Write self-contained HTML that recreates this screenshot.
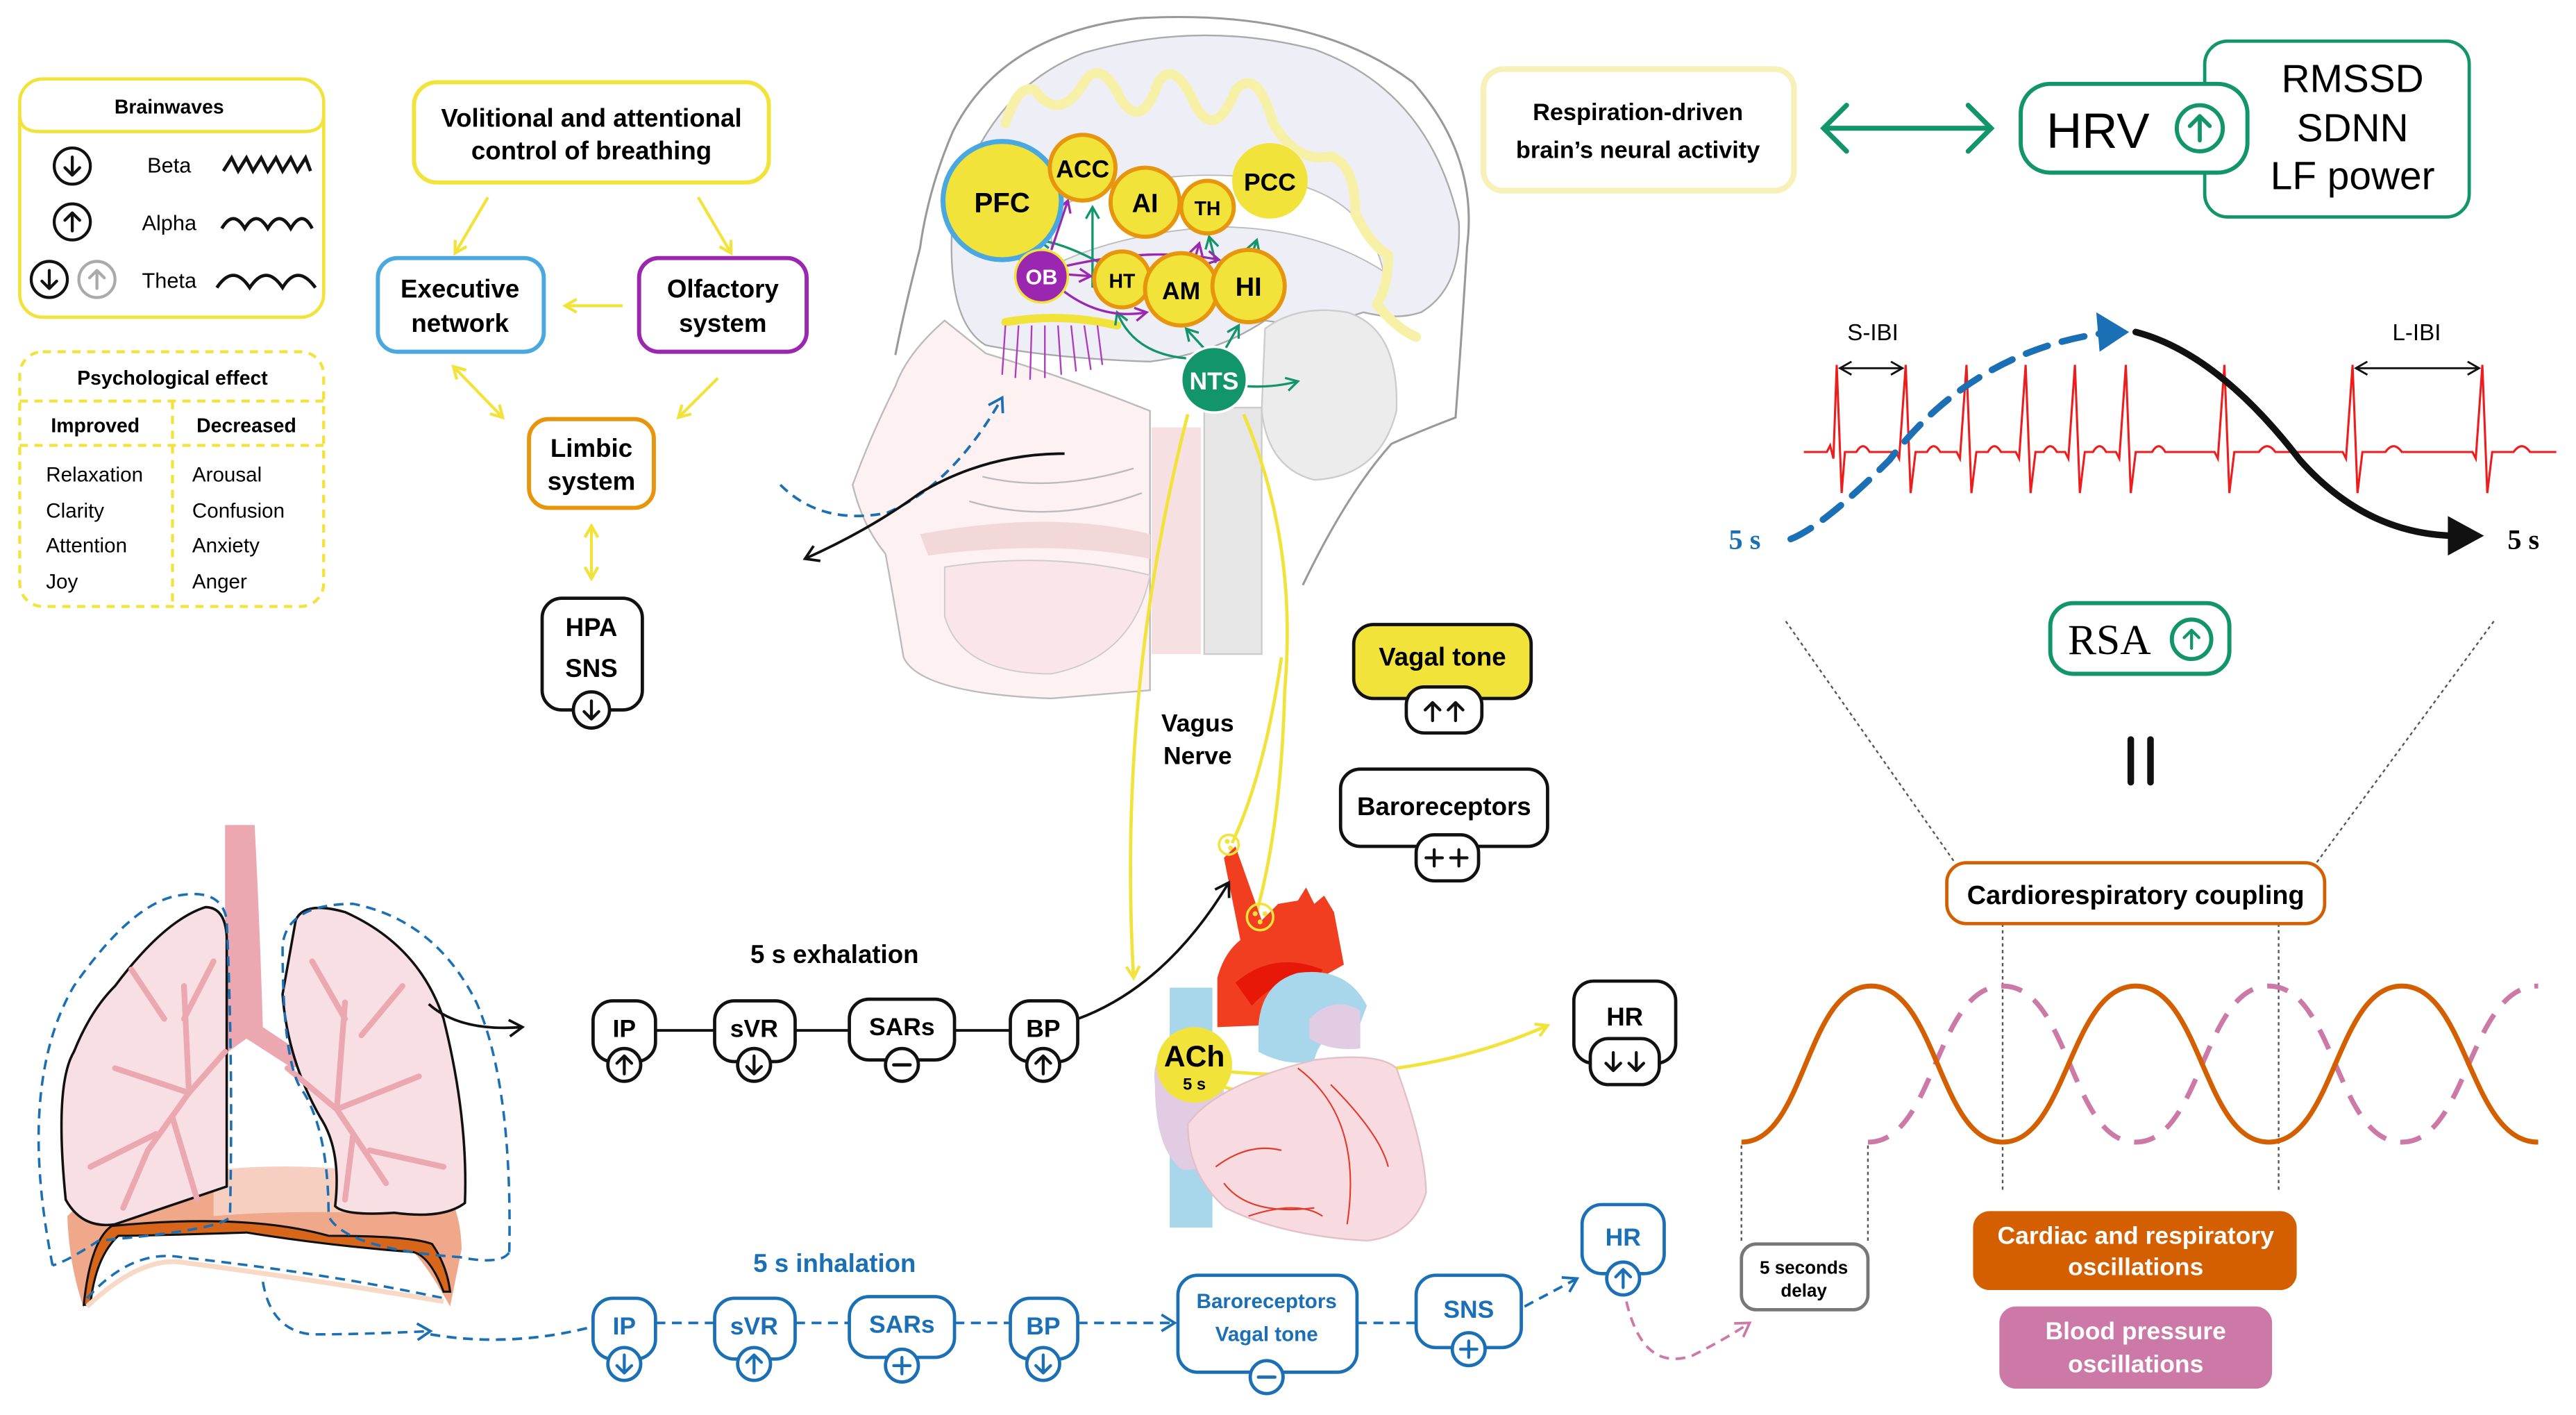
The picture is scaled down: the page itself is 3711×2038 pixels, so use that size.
<!DOCTYPE html>
<html><head><meta charset="utf-8"><style>
html,body{margin:0;padding:0;background:#fff;}
svg{display:block;}
text{font-family:"Liberation Sans","DejaVu Sans",sans-serif;}
.b{font-weight:bold;}
</style></head><body>
<svg width="3711" height="2038" viewBox="0 0 1568 861" xmlns="http://www.w3.org/2000/svg">
<defs>
<g id="up" fill="none" stroke-width="1.8" stroke-linecap="round" stroke-linejoin="round"><path d="M0 5.5 V-5.5 M-4.5 -1 L0 -5.5 L4.5 -1"/></g>
<g id="dn" fill="none" stroke-width="1.8" stroke-linecap="round" stroke-linejoin="round"><path d="M0 -5.5 V5.5 M-4.5 1 L0 5.5 L4.5 1"/></g>
<g id="pl" fill="none" stroke-width="1.8" stroke-linecap="round"><path d="M0 -5 V5 M-5 0 H5"/></g>
<g id="mi" fill="none" stroke-width="2" stroke-linecap="round"><path d="M-5 0 H5"/></g>
<marker id="ay" markerWidth="10" markerHeight="10" refX="8" refY="5" orient="auto" markerUnits="userSpaceOnUse"><path d="M1 1 L8 5 L1 9" fill="none" stroke="#f2e33a" stroke-width="1.8"/></marker>
<marker id="ays" markerWidth="10" markerHeight="10" refX="2" refY="5" orient="auto" markerUnits="userSpaceOnUse"><path d="M9 1 L2 5 L9 9" fill="none" stroke="#f2e33a" stroke-width="1.8"/></marker>
<marker id="ak" markerWidth="12" markerHeight="12" refX="9" refY="6" orient="auto" markerUnits="userSpaceOnUse"><path d="M1 1 L9 6 L1 11" fill="none" stroke="#111" stroke-width="1.6"/></marker>
<marker id="abl" markerWidth="12" markerHeight="12" refX="9" refY="6" orient="auto" markerUnits="userSpaceOnUse"><path d="M1 1 L9 6 L1 11" fill="none" stroke="#1a6fb5" stroke-width="1.6"/></marker>
<marker id="ag" markerWidth="10" markerHeight="10" refX="8" refY="5" orient="auto" markerUnits="userSpaceOnUse"><path d="M1 1 L8 5 L1 9" fill="none" stroke="#13956b" stroke-width="1.4"/></marker>
<marker id="ap" markerWidth="10" markerHeight="10" refX="8" refY="5" orient="auto" markerUnits="userSpaceOnUse"><path d="M1 1 L8 5 L1 9" fill="none" stroke="#9b27b0" stroke-width="1.4"/></marker>
<marker id="apk" markerWidth="12" markerHeight="12" refX="9" refY="6" orient="auto" markerUnits="userSpaceOnUse"><path d="M1 1 L9 6 L1 11" fill="none" stroke="#cc79a7" stroke-width="1.6"/></marker>
<marker id="aecg" markerWidth="10" markerHeight="10" refX="8" refY="5" orient="auto" markerUnits="userSpaceOnUse"><path d="M1 1 L8 5 L1 9" fill="none" stroke="#111" stroke-width="1.2"/></marker>
<marker id="aecgs" markerWidth="10" markerHeight="10" refX="2" refY="5" orient="auto" markerUnits="userSpaceOnUse"><path d="M9 1 L2 5 L9 9" fill="none" stroke="#111" stroke-width="1.2"/></marker>
</defs>

<!-- Brainwaves -->
<rect x="12" y="48" width="185" height="145" rx="14" fill="#fff" stroke="#f2e33a" stroke-width="2"/>
<path d="M12 70 Q12 80 24 80 L185 80 Q197 80 197 70" fill="none" stroke="#f2e33a" stroke-width="2"/>
<text x="103" y="69" font-size="12" class="b" text-anchor="middle">Brainwaves</text>
<g fill="none" stroke="#111" stroke-width="1.8">
<circle cx="44" cy="101" r="11"/><circle cx="44" cy="135" r="11"/><circle cx="30" cy="170" r="11"/>
</g>
<circle cx="59" cy="170" r="11" fill="none" stroke="#aaa" stroke-width="1.8"/>
<use href="#dn" x="44" y="101" stroke="#111"/>
<use href="#up" x="44" y="135" stroke="#111"/>
<use href="#dn" x="30" y="170" stroke="#111"/>
<use href="#up" x="59" y="170" stroke="#aaa"/>
<text x="103" y="105" font-size="13" text-anchor="middle">Beta</text>
<text x="103" y="140" font-size="13" text-anchor="middle">Alpha</text>
<text x="103" y="175" font-size="13" text-anchor="middle">Theta</text>
<path d="M136 104 L141 96 L145 104 L150 96 L154 104 L159 96 L163 104 L168 96 L172 104 L177 96 L181 104 L186 96 L189 104" fill="none" stroke="#111" stroke-width="2"/>
<path d="M135 139 Q142 127 149 139 Q156 127 163 139 Q170 127 177 139 Q184 127 190 139" fill="none" stroke="#111" stroke-width="2"/>
<path d="M132 175 Q142 160 152 175 Q162 160 172 175 Q181 160 192 175" fill="none" stroke="#111" stroke-width="2"/>

<!-- Psychological -->
<rect x="12" y="214" width="185" height="155" rx="14" fill="#fff" stroke="#f2e33a" stroke-width="1.8" stroke-dasharray="5 4"/>
<g stroke="#f2e33a" stroke-width="1.8" stroke-dasharray="5 4"><line x1="12" y1="244" x2="197" y2="244"/><line x1="12" y1="271" x2="197" y2="271"/><line x1="105" y1="244" x2="105" y2="369"/></g>
<text x="105" y="234" font-size="12" class="b" text-anchor="middle">Psychological effect</text>
<text x="58" y="263" font-size="12" class="b" text-anchor="middle">Improved</text>
<text x="150" y="263" font-size="12" class="b" text-anchor="middle">Decreased</text>
<g font-size="12.5"><text x="28" y="293">Relaxation</text><text x="28" y="315">Clarity</text><text x="28" y="336">Attention</text><text x="28" y="358">Joy</text>
<text x="117" y="293">Arousal</text><text x="117" y="315">Confusion</text><text x="117" y="336">Anxiety</text><text x="117" y="358">Anger</text></g>

<!-- Control flow -->
<rect x="252" y="50" width="216" height="61" rx="14" fill="#fff" stroke="#f2e33a" stroke-width="2.5"/>
<text x="360" y="77" font-size="15.5" class="b" text-anchor="middle">Volitional and attentional</text>
<text x="360" y="97" font-size="15.5" class="b" text-anchor="middle">control of breathing</text>
<rect x="230" y="157" width="101" height="57" rx="12" fill="#fff" stroke="#4aa8e0" stroke-width="2.5"/>
<text x="280" y="181" font-size="15.5" class="b" text-anchor="middle">Executive</text>
<text x="280" y="202" font-size="15.5" class="b" text-anchor="middle">network</text>
<rect x="389" y="157" width="102" height="57" rx="12" fill="#fff" stroke="#9b27b0" stroke-width="2.5"/>
<text x="440" y="181" font-size="15.5" class="b" text-anchor="middle">Olfactory</text>
<text x="440" y="202" font-size="15.5" class="b" text-anchor="middle">system</text>
<rect x="322" y="255" width="76" height="54" rx="12" fill="#fff" stroke="#e8950e" stroke-width="2.5"/>
<text x="360" y="278" font-size="15.5" class="b" text-anchor="middle">Limbic</text>
<text x="360" y="298" font-size="15.5" class="b" text-anchor="middle">system</text>
<g stroke="#f2e33a" stroke-width="1.8" fill="none">
<line x1="297" y1="120" x2="277" y2="154" marker-end="url(#ay)"/>
<line x1="425" y1="120" x2="445" y2="154" marker-end="url(#ay)"/>
<line x1="379" y1="186" x2="344" y2="186" marker-end="url(#ay)"/>
<line x1="276" y1="223" x2="306" y2="254" marker-start="url(#ays)" marker-end="url(#ay)"/>
<line x1="437" y1="230" x2="413" y2="254" marker-end="url(#ay)"/>
<line x1="360" y1="320" x2="360" y2="352" marker-start="url(#ays)" marker-end="url(#ay)"/>
</g>
<rect x="330" y="364" width="61" height="68" rx="12" fill="#fff" stroke="#111" stroke-width="2"/>
<text x="360" y="387" font-size="15.5" class="b" text-anchor="middle">HPA</text>
<text x="360" y="412" font-size="15.5" class="b" text-anchor="middle">SNS</text>
<circle cx="360" cy="432" r="11" fill="#fff" stroke="#111" stroke-width="2"/>
<use href="#dn" x="360" y="432" stroke="#111"/>

<!-- Head / brain -->
<path d="M701 260 L731 260 L731 398 L701 398 Z" fill="#f6e0e2"/>
<path d="M575 195 Q552 215 545 235 Q530 265 519 295 Q525 320 539 337 Q545 370 550 400 Q560 422 640 425 L700 420 L700 250 Q650 230 600 215 Z" fill="#fdf1f1" stroke="#bbb" stroke-width="1"/>
<path d="M560 325 Q640 310 700 325 L700 340 Q640 328 565 338 Z" fill="#f3d8da"/>
<path d="M575 345 Q640 335 700 350 Q690 400 640 410 Q585 410 575 375 Z" fill="#fae6e8" stroke="#ccc" stroke-width="0.8"/>
<path d="M598 290 Q640 300 690 285 M590 305 Q640 320 695 300" fill="none" stroke="#bbb" stroke-width="1"/>
<path d="M580 130 Q600 55 660 32 Q730 12 800 30 Q870 55 888 135 Q890 175 865 190 Q850 195 830 190 Q800 200 770 195 Q740 215 700 220 Q640 218 600 210 Q575 195 580 130 Z" fill="#eeeef6" stroke="#aaa" stroke-width="1"/>
<path d="M640 128 Q700 98 780 110 Q832 120 842 165 Q800 138 740 138 Q680 142 640 162 Z" fill="#fff" stroke="#bbb" stroke-width="0.8"/>
<path d="M612 75 Q620 50 630 55 Q645 75 660 50 Q670 35 682 60 Q695 80 705 50 Q715 35 728 65 Q740 85 752 55 Q765 40 775 75 Q790 100 810 95 Q825 100 825 130 Q835 150 845 155 Q845 175 838 185 Q850 200 862 205" fill="none" stroke="#f7f1a8" stroke-width="6" stroke-linejoin="round" stroke-linecap="round"/>
<path d="M770 200 Q790 185 820 190 Q852 200 850 250 Q840 290 800 292 Q772 285 768 250 Z" fill="#ececec" stroke="#ccc"/>
<path d="M733 248 L768 248 L768 398 L733 398 Z" fill="#e6e6e6" stroke="#ccc"/>
<path d="M693 11 Q800 5 860 50 Q900 95 893 150 Q890 200 886 254 Q865 262 847 270 Q820 300 793 356" fill="none" stroke="#999" stroke-width="1.3"/>
<path d="M693 11 Q610 20 580 80 Q565 115 560 151 Q550 190 545 216" fill="none" stroke="#999" stroke-width="1.3"/>
<path d="M612 196 Q645 190 680 198" stroke="#f2e33a" stroke-width="5" fill="none" stroke-linecap="round"/>
<g stroke="#b03cc0" stroke-width="1"><line x1="612" y1="198" x2="610" y2="228"/><line x1="620" y1="198" x2="618" y2="230"/><line x1="628" y1="198" x2="627" y2="231"/><line x1="636" y1="198" x2="636" y2="230"/><line x1="644" y1="198" x2="646" y2="228"/><line x1="652" y1="198" x2="655" y2="226"/><line x1="660" y1="198" x2="664" y2="225"/><line x1="668" y1="198" x2="671" y2="222"/></g>
<!-- brain arrows -->
<g stroke="#13956b" stroke-width="1.4" fill="none">
<path d="M722 218 Q690 215 680 190" marker-end="url(#ag)"/>
<line x1="733" y1="212" x2="722" y2="200" marker-end="url(#ag)"/>
<line x1="746" y1="212" x2="754" y2="198" marker-end="url(#ag)"/>
<path d="M759 235 Q775 236 790 232" marker-end="url(#ag)"/>
<path d="M700 180 Q660 150 632 146" marker-end="url(#ag)"/>
<line x1="665" y1="175" x2="665" y2="126" marker-end="url(#ag)"/>
<line x1="740" y1="160" x2="736" y2="144" marker-end="url(#ag)"/>
<line x1="762" y1="155" x2="765" y2="146" marker-end="url(#ag)"/>
</g>
<g stroke="#9b27b0" stroke-width="1.4" fill="none">
<line x1="624" y1="160" x2="606" y2="148" marker-end="url(#ap)"/>
<line x1="640" y1="152" x2="650" y2="122" marker-end="url(#ap)"/>
<line x1="650" y1="167" x2="664" y2="168" marker-end="url(#ap)"/>
<path d="M648 162 Q700 150 742 158" marker-end="url(#ap)"/>
<path d="M646 176 Q670 195 698 190" marker-end="url(#ap)"/>
<line x1="728" y1="155" x2="730" y2="148" marker-end="url(#ap)"/>
</g>
<circle cx="610" cy="122" r="36" fill="#f2e33a" stroke="#4aa8e0" stroke-width="3"/>
<text x="610" y="129" font-size="17" class="b" text-anchor="middle">PFC</text>
<g fill="#f2e33a" stroke="#e8950e" stroke-width="2.5">
<circle cx="659" cy="102" r="20"/><circle cx="697" cy="123" r="21"/><circle cx="735" cy="126" r="16"/>
<circle cx="683" cy="170" r="17"/><circle cx="719" cy="176" r="22"/><circle cx="760" cy="174" r="22"/></g>
<circle cx="773" cy="110" r="23" fill="#f2e33a"/>
<circle cx="634" cy="168" r="16" fill="#9b27b0" stroke="#f2e33a" stroke-width="1.5"/>
<circle cx="739" cy="231" r="20" fill="#13956b" stroke="#fff" stroke-width="1.5"/>
<g class="b" text-anchor="middle">
<text x="659" y="108" font-size="15">ACC</text><text x="697" y="129" font-size="16">AI</text><text x="735" y="131" font-size="12">TH</text>
<text x="773" y="116" font-size="15">PCC</text><text x="683" y="175" font-size="12">HT</text><text x="719" y="182" font-size="15">AM</text>
<text x="760" y="180" font-size="16">HI</text><text x="634" y="173" font-size="13" fill="#fff">OB</text><text x="739" y="237" font-size="15" fill="#fff">NTS</text></g>
<!-- breath arrows -->
<path d="M475 295 Q500 320 540 312 Q580 295 610 242" fill="none" stroke="#1a6fb5" stroke-width="1.6" stroke-dasharray="6 4" marker-end="url(#abl)"/>
<path d="M648 276 Q600 276 560 300 Q530 322 490 340" fill="none" stroke="#111" stroke-width="1.6" marker-end="url(#ak)"/>

<!-- Vagus nerve -->
<g stroke="#f2e33a" stroke-width="2" fill="none">
<path d="M723 252 Q680 420 690 595" marker-end="url(#ay)"/>
<path d="M757 252 Q790 330 782 420 Q780 500 765 555"/>
<path d="M780 400 Q770 470 750 513"/>
<path d="M727 650 Q850 665 942 624" marker-end="url(#ay)"/>
<path d="M737 660 Q745 690 757 717" marker-end="url(#ay)"/>
<path d="M737 660 Q800 670 845 737" marker-end="url(#ay)"/>
</g>
<text x="729" y="445" font-size="15" class="b" text-anchor="middle">Vagus</text>
<text x="729" y="465" font-size="15" class="b" text-anchor="middle">Nerve</text>
<rect x="824" y="380" width="108" height="45" rx="12" fill="#f2e33a" stroke="#111" stroke-width="2"/>
<text x="878" y="405" font-size="15.5" class="b" text-anchor="middle">Vagal tone</text>
<rect x="856" y="418" width="46" height="28" rx="11" fill="#fff" stroke="#111" stroke-width="2"/>
<use href="#up" x="872" y="433" stroke="#111"/><use href="#up" x="886" y="433" stroke="#111"/>
<rect x="816" y="468" width="126" height="47" rx="12" fill="#fff" stroke="#111" stroke-width="2"/>
<text x="879" y="496" font-size="15.5" class="b" text-anchor="middle">Baroreceptors</text>
<rect x="862" y="508" width="38" height="28" rx="11" fill="#fff" stroke="#111" stroke-width="2"/>
<use href="#pl" x="873" y="522" stroke="#111"/><use href="#pl" x="888" y="522" stroke="#111"/>

<!-- Heart -->
<path d="M712 601 L738 601 L738 747 L712 747 Z" fill="#a8d6ea"/>
<path d="M703 660 Q700 640 720 632 L745 640 L745 710 L720 712 Q703 700 703 660 Z" fill="#e2cce4"/>
<path d="M723 684 Q740 660 800 645 Q839 640 850 650 Q868 700 868 726 Q860 752 832 755 Q780 752 746 735 Q723 715 723 684 Z" fill="#f8dbe0" stroke="#e3bfc6"/>
<path d="M741 625 L741 595 Q745 580 755 572 L745 522 L752 515 L768 560 L778 550 L790 548 L795 540 L800 550 L806 545 L812 555 L818 587 L795 600 L766 624 Z" fill="#f23e20"/>
<path d="M752 598 Q775 578 805 590 L800 600 Q780 592 762 612 Z" fill="#e81808"/>
<path d="M766 624 Q768 598 790 592 Q820 588 832 612 L826 628 Q805 625 800 645 Q785 650 766 640 Z" fill="#a8d6ea"/>
<path d="M797 620 Q812 605 828 615 L828 638 Q810 640 797 632 Z" fill="#e2cce4"/>
<path d="M740 710 Q760 695 780 700 M745 720 Q760 740 800 735 M790 650 Q830 680 820 745 M810 660 Q840 690 845 710 M760 740 Q790 730 805 740" stroke="#e43a2a" stroke-width="0.9" fill="none"/>
<circle cx="748" cy="514" r="6" fill="none" stroke="#f2e33a" stroke-width="1.5"/>
<circle cx="767" cy="558" r="8" fill="none" stroke="#f2e33a" stroke-width="1.5"/>
<g fill="#f2e33a"><circle cx="747" cy="512" r="1.5"/><circle cx="749" cy="516" r="1.5"/><circle cx="764" cy="556" r="1.5"/><circle cx="770" cy="556" r="1.5"/><circle cx="767" cy="561" r="1.5"/></g>
<circle cx="727" cy="648" r="23" fill="#f2e33a"/>
<text x="727" y="649" font-size="18" class="b" text-anchor="middle">ACh</text>
<text x="727" y="663" font-size="10" class="b" text-anchor="middle">5 s</text>
<rect x="958" y="597" width="62" height="50" rx="12" fill="#fff" stroke="#111" stroke-width="2"/>
<text x="989" y="624" font-size="15.5" class="b" text-anchor="middle">HR</text>
<rect x="968" y="632" width="42" height="28" rx="11" fill="#fff" stroke="#111" stroke-width="2"/>
<use href="#dn" x="982" y="646" stroke="#111"/><use href="#dn" x="996" y="646" stroke="#111"/>

<!-- Lungs -->
<path d="M41 740 Q60 720 110 715 L260 715 Q280 725 281 760 L274 795 Q260 770 250 760 Q150 745 65 748 Q55 765 51 796 Q42 770 41 740 Z" fill="#f0a88a"/>
<path d="M130 712 Q200 705 260 720 L255 740 Q190 735 130 740 Z" fill="#f7cfc0"/>
<path d="M51 794 Q55 755 68 746 Q150 738 200 752 Q250 752 263 757 Q272 770 274 786 L270 786 Q262 765 252 762 Q200 758 150 750 Q90 752 72 752 Q58 765 55 794 Z" fill="#d8661a" stroke="#111" stroke-width="1.3"/>
<path d="M137 502 L155 502 Q158 560 160 625 L190 645 L178 650 L150 632 L125 650 L112 645 L137 625 Z" fill="#eba8b0"/>
<path d="M70 600 Q100 560 125 552 Q137 552 138 570 L138 722 Q100 735 70 745 Q50 748 40 730 Q33 660 45 640 Q55 615 70 600 Z" fill="#f8dfe4" stroke="#111" stroke-width="1.5"/>
<path d="M180 560 Q185 548 210 555 Q255 575 270 620 Q285 680 283 732 Q270 742 240 738 Q210 740 204 734 Q208 700 195 680 Q175 645 172 605 Z" fill="#f8dfe4" stroke="#111" stroke-width="1.5"/>
<g stroke="#eba8b0" stroke-width="3.5" fill="none" stroke-linecap="round">
<path d="M137 640 L115 665 L90 700 L75 735 M115 665 L70 650 M105 680 L120 730 M115 665 L112 600 M100 620 L80 590 M95 690 L55 710 M112 620 L130 585"/>
<path d="M175 650 L205 675 L235 720 M205 675 L255 655 M215 690 L210 730 M205 675 L210 610 M220 630 L245 600 M225 700 L270 710 M210 620 L190 585"/>
</g>
<g fill="none" stroke="#1a6fb5" stroke-width="1.5" stroke-dasharray="6 4">
<path d="M32 770 Q10 660 45 600 Q80 550 108 545 Q135 540 138 560 Q142 650 140 740 Q138 748 60 755 Q40 768 32 770"/>
<path d="M310 762 Q312 660 290 610 Q265 560 215 550 Q175 550 172 575 Q172 650 185 665 Q200 690 200 740 Q210 760 280 765 Q305 770 310 762"/>
<path d="M53 790 Q80 760 110 765 Q200 775 270 790"/>
<path d="M160 780 Q165 810 190 812 Q220 812 262 810" marker-end="url(#abl)"/>
</g>
<path d="M53 795 Q85 765 110 768 Q200 780 270 792" fill="none" stroke="#f7d9c6" stroke-width="3"/>

<!-- Exhalation row -->
<text x="508" y="586" font-size="15.5" class="b" text-anchor="middle">5 s exhalation</text>
<path d="M261 611 Q280 628 318 625" fill="none" stroke="#111" stroke-width="1.6" marker-end="url(#ak)"/>
<g stroke="#111" stroke-width="1.6"><line x1="399" y1="627" x2="435" y2="627"/><line x1="484" y1="627" x2="517" y2="627"/><line x1="581" y1="627" x2="615" y2="627"/></g>
<path d="M656 620 Q710 600 748 537" fill="none" stroke="#111" stroke-width="1.6" marker-end="url(#ak)"/>
<g fill="#fff" stroke="#111" stroke-width="2">
<rect x="361" y="609" width="38" height="37" rx="12"/><rect x="435" y="609" width="49" height="37" rx="12"/>
<rect x="517" y="608" width="64" height="37" rx="12"/><rect x="615" y="609" width="41" height="37" rx="12"/>
<circle cx="380" cy="648" r="10"/><circle cx="459" cy="648" r="10"/><circle cx="549" cy="648" r="10"/><circle cx="635" cy="648" r="10"/></g>
<g class="b" text-anchor="middle" font-size="15"><text x="380" y="631">IP</text><text x="459" y="631">sVR</text><text x="549" y="630">SARs</text><text x="635" y="631">BP</text></g>
<use href="#up" x="380" y="648" stroke="#111"/><use href="#dn" x="459" y="648" stroke="#111"/><use href="#mi" x="549" y="648" stroke="#111"/><use href="#up" x="635" y="648" stroke="#111"/>

<!-- Inhalation row -->
<text x="508" y="774" font-size="15.5" class="b" text-anchor="middle" fill="#1a6fb5">5 s inhalation</text>
<g stroke="#1a6fb5" stroke-width="1.6" stroke-dasharray="6 4" fill="none">
<path d="M262 812 Q310 820 358 808"/>
<line x1="399" y1="805" x2="435" y2="805"/><line x1="484" y1="805" x2="517" y2="805"/><line x1="581" y1="805" x2="615" y2="805"/>
<line x1="656" y1="805" x2="715" y2="805" marker-end="url(#abl)"/>
<line x1="826" y1="805" x2="862" y2="805"/>
<line x1="928" y1="795" x2="960" y2="778" marker-end="url(#abl)"/>
</g>
<g fill="#fff" stroke="#1a6fb5" stroke-width="2">
<rect x="361" y="790" width="38" height="37" rx="12"/><rect x="435" y="790" width="49" height="37" rx="12"/>
<rect x="517" y="789" width="64" height="37" rx="12"/><rect x="615" y="790" width="41" height="37" rx="12"/>
<rect x="717" y="776" width="109" height="59" rx="12"/><rect x="862" y="776" width="64" height="44" rx="12"/>
<rect x="963" y="733" width="50" height="42" rx="12"/>
<circle cx="380" cy="830" r="10"/><circle cx="459" cy="830" r="10"/><circle cx="549" cy="831" r="10"/><circle cx="635" cy="830" r="10"/>
<circle cx="771" cy="838" r="10"/><circle cx="894" cy="821" r="10"/><circle cx="988" cy="778" r="10"/></g>
<g class="b" text-anchor="middle" font-size="15" fill="#1a6fb5"><text x="380" y="812">IP</text><text x="459" y="812">sVR</text><text x="549" y="811">SARs</text><text x="635" y="812">BP</text>
<text x="771" y="796" font-size="12.5">Baroreceptors</text><text x="771" y="816" font-size="12.5">Vagal tone</text><text x="894" y="802">SNS</text><text x="988" y="758">HR</text></g>
<use href="#dn" x="380" y="830" stroke="#1a6fb5"/><use href="#up" x="459" y="830" stroke="#1a6fb5"/><use href="#pl" x="549" y="831" stroke="#1a6fb5"/><use href="#dn" x="635" y="830" stroke="#1a6fb5"/>
<use href="#mi" x="771" y="838" stroke="#1a6fb5"/><use href="#pl" x="894" y="821" stroke="#1a6fb5"/><use href="#up" x="988" y="778" stroke="#1a6fb5"/>
<path d="M990 792 Q1000 835 1030 825 Q1050 815 1065 805" fill="none" stroke="#cc79a7" stroke-width="1.6" stroke-dasharray="6 4" marker-end="url(#apk)"/>

<!-- Top right -->
<rect x="903" y="42" width="189" height="74" rx="12" fill="#fff" stroke="#f7f0b8" stroke-width="3.5"/>
<text x="997" y="73" font-size="14.5" class="b" text-anchor="middle">Respiration-driven</text>
<text x="997" y="96" font-size="14.5" class="b" text-anchor="middle">brain’s neural activity</text>
<g stroke="#13956b" stroke-width="3" fill="none" stroke-linecap="round">
<line x1="1110" y1="78" x2="1212" y2="78"/><path d="M1124 64 L1110 78 L1124 92"/><path d="M1198 64 L1212 78 L1198 92"/></g>
<rect x="1342" y="25" width="161" height="107" rx="14" fill="#fff" stroke="#13956b" stroke-width="2"/>
<rect x="1230" y="51" width="138" height="54" rx="18" fill="#fff" stroke="#13956b" stroke-width="2.5"/>
<text x="1277" y="90" font-size="30" text-anchor="middle">HRV</text>
<circle cx="1339" cy="78" r="14" fill="none" stroke="#13956b" stroke-width="2.5"/>
<use href="#up" x="1339" y="78" stroke="#13956b" transform="translate(1339 78) scale(1.35) translate(-1339 -78)"/>
<g font-size="24" text-anchor="middle"><text x="1432" y="56">RMSSD</text><text x="1432" y="86">SDNN</text><text x="1432" y="115">LF power</text></g>

<!-- ECG -->
<path d="M1098 275 L1112 275 L1114 271 L1116 279 L1118 222 L1121 300 L1123 275 L1130 275 Q1134 268 1138 275 L1154 275 L1156 279 L1160 222 L1163 300 L1166 275 L1173 275 Q1177 268 1181 275 L1191 275 L1193 279 L1197 222 L1200 300 L1203 275 L1210 275 Q1214 268 1218 275 L1227 275 L1229 279 L1233 222 L1236 300 L1239 275 L1244 275 Q1248 268 1252 275 L1257 275 L1259 279 L1263 222 L1266 300 L1269 275 L1274 275 Q1278 268 1282 275 L1288 275 L1290 279 L1294 222 L1297 300 L1300 275 L1310 275 Q1314 268 1318 275 L1348 275 L1350 279 L1354 222 L1357 300 L1360 275 L1375 275 Q1380 268 1385 275 L1426 275 L1428 279 L1432 222 L1435 300 L1438 275 L1452 275 Q1457 268 1462 275 L1505 275 L1507 279 L1511 222 L1514 300 L1517 275 L1530 275 Q1535 268 1540 275 L1556 275" fill="none" stroke="#ee1c1c" stroke-width="1.3"/>
<line x1="1120" y1="224" x2="1158" y2="224" stroke="#111" stroke-width="1.2" marker-start="url(#aecgs)" marker-end="url(#aecg)"/>
<line x1="1434" y1="224" x2="1509" y2="224" stroke="#111" stroke-width="1.2" marker-start="url(#aecgs)" marker-end="url(#aecg)"/>
<text x="1140" y="207" font-size="14" text-anchor="middle">S-IBI</text>
<text x="1471" y="207" font-size="14" text-anchor="middle">L-IBI</text>
<path d="M1090 328 Q1110 320 1150 280 Q1200 215 1278 203" fill="none" stroke="#1a6fb5" stroke-width="4" stroke-dasharray="14 9" stroke-linecap="round"/>
<path d="M1276 190 L1296 202 L1278 214 Z" fill="#1a6fb5"/>
<path d="M1300 202 Q1350 215 1400 280 Q1440 325 1494 326" fill="none" stroke="#111" stroke-width="4" stroke-linecap="round"/>
<path d="M1490 314 L1512 326 L1490 338 Z" fill="#111"/>
<text x="1062" y="334" font-size="17" class="b" fill="#1a6fb5" text-anchor="middle" style="font-family:'Liberation Serif',serif">5 s</text>
<text x="1536" y="334" font-size="17" class="b" text-anchor="middle" style="font-family:'Liberation Serif',serif">5 s</text>

<rect x="1248" y="367" width="109" height="43" rx="14" fill="#fff" stroke="#13956b" stroke-width="2.5"/>
<text x="1284" y="398" font-size="26" text-anchor="middle" style="font-family:'Liberation Serif',serif">RSA</text>
<circle cx="1334" cy="389" r="12" fill="none" stroke="#13956b" stroke-width="2.5"/>
<use href="#up" x="1334" y="389" stroke="#13956b"/>
<g stroke="#111" stroke-width="4" stroke-linecap="round"><line x1="1297" y1="450" x2="1297" y2="476"/><line x1="1309" y1="450" x2="1309" y2="476"/></g>
<g stroke="#555" stroke-width="1" stroke-dasharray="2 2" fill="none">
<line x1="1087" y1="378" x2="1190" y2="525"/><line x1="1518" y1="378" x2="1410" y2="525"/>
<line x1="1219" y1="562" x2="1219" y2="725"/><line x1="1387" y1="562" x2="1387" y2="725"/>
<line x1="1060" y1="697" x2="1060" y2="757"/><line x1="1137" y1="697" x2="1137" y2="757"/></g>
<rect x="1185" y="525" width="230" height="37" rx="12" fill="#fff" stroke="#d35f00" stroke-width="2"/>
<text x="1300" y="550" font-size="16" class="b" text-anchor="middle">Cardiorespiratory coupling</text>
<path d="M1137 695 C1178 695 1178 600 1219 600 S1260 695 1300 695 S1341 600 1381 600 S1422 695 1462 695 S1503 600 1545 600" fill="none" stroke="#cc79a7" stroke-width="3" stroke-dasharray="13 9"/>
<path d="M1060 695 C1099 695 1099 600 1139 600 S1180 695 1219 695 S1260 600 1300 600 S1341 695 1381 695 S1422 600 1462 600 S1503 695 1545 695" fill="none" stroke="#d35f00" stroke-width="3"/>
<rect x="1060" y="757" width="77" height="40" rx="9" fill="#fff" stroke="#777" stroke-width="2"/>
<text x="1098" y="775" font-size="11" class="b" text-anchor="middle">5 seconds</text>
<text x="1098" y="789" font-size="11" class="b" text-anchor="middle">delay</text>
<rect x="1201" y="737" width="197" height="48" rx="10" fill="#d35f00"/>
<text x="1300" y="757" font-size="15" class="b" text-anchor="middle" fill="#fff">Cardiac and respiratory</text>
<text x="1300" y="776" font-size="15" class="b" text-anchor="middle" fill="#fff">oscillations</text>
<rect x="1217" y="795" width="166" height="50" rx="10" fill="#cc79a7"/>
<text x="1300" y="815" font-size="15" class="b" text-anchor="middle" fill="#fff">Blood pressure</text>
<text x="1300" y="835" font-size="15" class="b" text-anchor="middle" fill="#fff">oscillations</text>
</svg>
</body></html>
